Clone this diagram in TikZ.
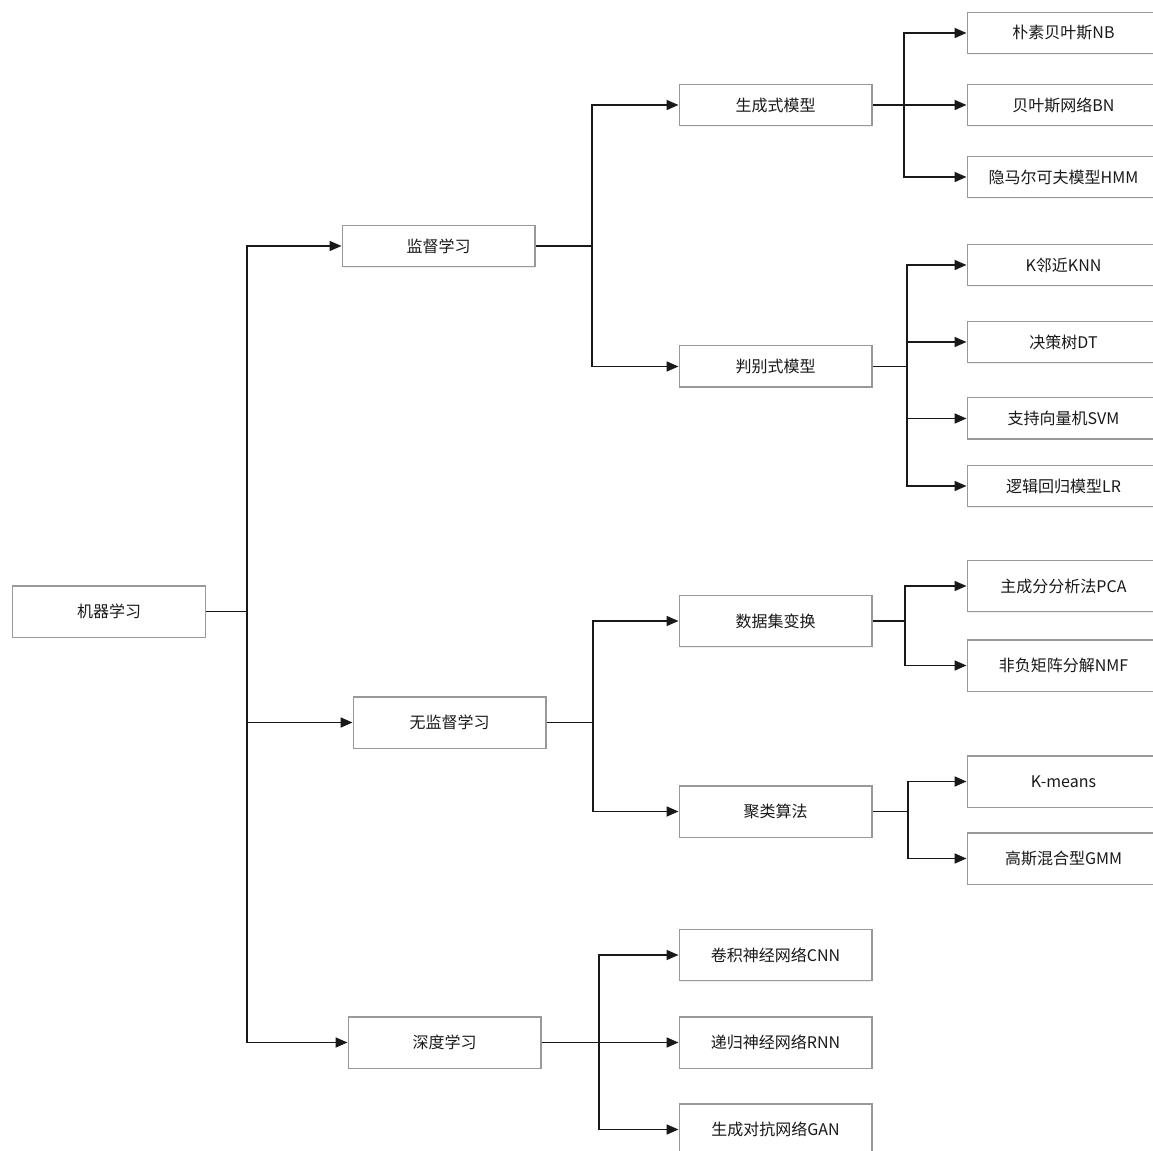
\documentclass[tikz,border=0pt]{standalone}
\usepackage{fontspec}
\setmainfont{Noto Sans CJK SC}
\usepackage{xcolor}
\usepackage{tikz}
\usetikzlibrary{arrows.meta,positioning,shadows}

\begin{document}
\begin{tikzpicture}[x=0.75pt, y=-0.75pt,
  mod/.style={draw=black!40, fill=white, line width=1pt, minimum width=144.5pt, minimum height=31pt,
    inner sep=0pt, text=black!90, font=\fontsize{12pt}{14pt}\selectfont,
    drop shadow={shadow xshift=0.8pt, shadow yshift=-0.8pt, opacity=0.12}},
  tall/.style={mod, minimum height=38.5pt},
  arr/.style={-{Triangle[length=9pt, width=7.5pt]}, line width=1.3pt, black!90},
  ln/.style={line width=1.3pt, black!90}
]
  \clip (0,0) rectangle (1153,1151);
  % levels 0 and 1
  \node[tall] (ml) at (109,611.5) {机器学习};
  \node[mod]  (sup) at (438.5,246) {监督学习};
  \node[tall] (uns) at (449.5,722.5) {无监督学习};
  \node[tall] (dl) at (444.5,1042.5) {深度学习};
  % level 2
  \node[mod]  (gen) at (775.5,105) {生成式模型};
  \node[mod]  (dis) at (775.5,366.5) {判别式模型};
  \node[tall] (dat) at (775.5,621) {数据集变换};
  \node[tall] (clu) at (775.5,811.5) {聚类算法};
  \node[tall] (cnn) at (775.5,955) {卷积神经网络CNN};
  \node[tall] (rnn) at (775.5,1042.5) {递归神经网络RNN};
  \node[tall] (gan) at (775.5,1129.5) {生成对抗网络GAN};
  % leaves
  \node[mod]  (nb)  at (1063.5,33) {朴素贝叶斯NB};
  \node[mod]  (bn)  at (1063.5,105) {贝叶斯网络BN};
  \node[mod]  (hmm) at (1063.5,177) {隐马尔可夫模型HMM};
  \node[mod]  (knn) at (1063.5,265) {K邻近KNN};
  \node[mod]  (dt)  at (1063.5,342) {决策树DT};
  \node[mod]  (svm) at (1063.5,418.5) {支持向量机SVM};
  \node[mod]  (lr)  at (1063.5,486) {逻辑回归模型LR};
  \node[tall] (pca) at (1063.5,586) {主成分分析法PCA};
  \node[tall] (nmf) at (1063.5,665.5) {非负矩阵分解NMF};
  \node[tall] (km)  at (1063.5,781.5) {K-means};
  \node[tall] (gmm) at (1063.5,858.5) {高斯混合型GMM};
  % junctions
  \coordinate (j0) at (247,0);
  \coordinate (j1) at (592,0);
  \coordinate (j2) at (593,0);
  \coordinate (j3) at (599,0);
  \coordinate (j4) at (904,0);
  \coordinate (j5) at (907,0);
  \coordinate (j6) at (905,0);
  \coordinate (j7) at (908,0);
  % connectors
  \draw[ln] (ml.east) -- (ml.east -| j0);
  \foreach \c in {sup,uns,dl}
    \draw[arr] (ml.east -| j0) |- (\c.west);
  \draw[ln] (sup.east) -- (sup.east -| j1);
  \foreach \c in {gen,dis}
    \draw[arr] (sup.east -| j1) |- (\c.west);
  \draw[ln] (uns.east) -- (uns.east -| j2);
  \foreach \c in {dat,clu}
    \draw[arr] (uns.east -| j2) |- (\c.west);
  \draw[ln] (dl.east) -- (dl.east -| j3);
  \foreach \c in {cnn,rnn,gan}
    \draw[arr] (dl.east -| j3) |- (\c.west);
  \draw[ln] (gen.east) -- (gen.east -| j4);
  \foreach \c in {nb,bn,hmm}
    \draw[arr] (gen.east -| j4) |- (\c.west);
  \draw[ln] (dis.east) -- (dis.east -| j5);
  \foreach \c in {knn,dt,svm,lr}
    \draw[arr] (dis.east -| j5) |- (\c.west);
  \draw[ln] (dat.east) -- (dat.east -| j6);
  \foreach \c in {pca,nmf}
    \draw[arr] (dat.east -| j6) |- (\c.west);
  \draw[ln] (clu.east) -- (clu.east -| j7);
  \foreach \c in {km,gmm}
    \draw[arr] (clu.east -| j7) |- (\c.west);
\end{tikzpicture}
\end{document}
